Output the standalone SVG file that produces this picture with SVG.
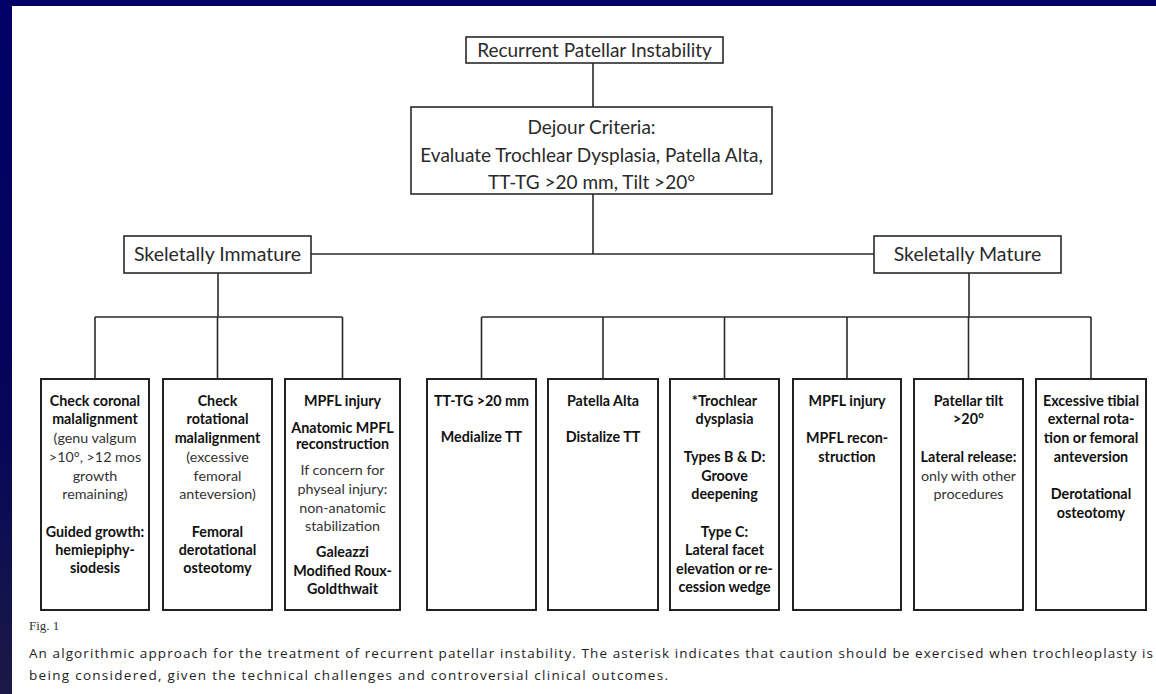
<svg xmlns="http://www.w3.org/2000/svg" width="1156" height="694" viewBox="0 0 1156 694">
<defs>
<linearGradient id="navy" x1="0" y1="0" x2="0" y2="1">
<stop offset="0" stop-color="#000068"/>
<stop offset="0.6" stop-color="#05055a"/>
<stop offset="1" stop-color="#1a1a46"/>
</linearGradient>
<style>
.box{fill:#fff;stroke:#2a2a2a;stroke-width:1.6}
.cbox{fill:#fff;stroke:#222;stroke-width:2}
.con{stroke:#2a2a2a;stroke-width:1.6;fill:none}
.t{font-family:Lato,"Noto Sans",sans-serif;fill:#2a2a2a;text-anchor:middle}
.h{font-size:19px}
.s{font-size:19.5px}
.c{font-family:Lato,"Noto Sans",sans-serif;font-size:14.3px;text-anchor:middle;fill:#111}
.b{font-weight:bold}
.r{font-weight:normal;fill:#333}
.cap{font-family:"Open Sans","Liberation Sans",sans-serif;font-size:13.5px;fill:#222}
.fig{font-family:"Liberation Serif","Times New Roman",serif;font-size:13px;fill:#333}
</style>
</defs>
<rect x="0" y="0" width="1156" height="694" fill="url(#navy)"/>
<rect x="0" y="0" width="1156" height="6" fill="#000068"/>
<rect x="12" y="6" width="1144" height="688" fill="#fff"/>

<g id="connectors">
<line class="con" x1="593" y1="63" x2="593" y2="107"/>
<line class="con" x1="593" y1="194" x2="593" y2="254"/>
<line class="con" x1="311" y1="254" x2="874" y2="254"/>
<line class="con" x1="218" y1="273" x2="218" y2="317"/>
<line class="con" x1="95" y1="317" x2="342.5" y2="317"/>
<line class="con" x1="95" y1="317" x2="95" y2="379"/>
<line class="con" x1="217.5" y1="317" x2="217.5" y2="379"/>
<line class="con" x1="342.5" y1="317" x2="342.5" y2="379"/>
<line class="con" x1="969" y1="273" x2="969" y2="317"/>
<line class="con" x1="481.5" y1="317" x2="1091" y2="317"/>
<line class="con" x1="481.5" y1="317" x2="481.5" y2="379"/>
<line class="con" x1="603" y1="317" x2="603" y2="379"/>
<line class="con" x1="724.5" y1="317" x2="724.5" y2="379"/>
<line class="con" x1="847" y1="317" x2="847" y2="379"/>
<line class="con" x1="968.5" y1="317" x2="968.5" y2="379"/>
<line class="con" x1="1091" y1="317" x2="1091" y2="379"/>
</g>

<g id="n-root">
<rect class="box" x="466" y="37" width="257" height="26"/>
<text class="t h" x="594.5" y="56.5">Recurrent Patellar Instability</text>
</g>
<g id="n-dejour">
<rect class="box" x="411" y="107" width="361" height="87"/>
<text class="t h" x="591.5" y="133.5">Dejour Criteria:</text>
<text class="t h" x="591.5" y="161.5">Evaluate Trochlear Dysplasia, Patella Alta,</text>
<text class="t h" x="591.5" y="188.5">TT-TG &gt;20 mm, Tilt &gt;20°</text>
</g>
<g id="n-immature">
<rect class="box" x="124" y="236" width="187" height="37"/>
<text class="t s" x="217.5" y="261">Skeletally Immature</text>
</g>
<g id="n-mature">
<rect class="box" x="874" y="236" width="187" height="37"/>
<text class="t s" x="967.5" y="261">Skeletally Mature</text>
</g>

<g id="n-coronal">
<rect class="cbox" x="41" y="379" width="108" height="231"/>
<text class="c b" x="95" y="405.5">Check coronal</text>
<text class="c b" x="95" y="424">malalignment</text>
<text class="c r" x="95" y="442.5">(genu valgum</text>
<text class="c r" x="95" y="461.5">&gt;10°, &gt;12 mos</text>
<text class="c r" x="95" y="480.5">growth</text>
<text class="c r" x="95" y="499">remaining)</text>
<text class="c b" x="95" y="536.5">Guided growth:</text>
<text class="c b" x="95" y="555">hemiepiphy-</text>
<text class="c b" x="95" y="573">siodesis</text>
</g>
<g id="n-rotational">
<rect class="cbox" x="163" y="379" width="109" height="231"/>
<text class="c b" x="217.5" y="405.5">Check</text>
<text class="c b" x="217.5" y="424">rotational</text>
<text class="c b" x="217.5" y="442.5">malalignment</text>
<text class="c r" x="217.5" y="461.5">(excessive</text>
<text class="c r" x="217.5" y="480.5">femoral</text>
<text class="c r" x="217.5" y="499">anteversion)</text>
<text class="c b" x="217.5" y="536.5">Femoral</text>
<text class="c b" x="217.5" y="555">derotational</text>
<text class="c b" x="217.5" y="573">osteotomy</text>
</g>
<g id="n-mpfl-immature">
<rect class="cbox" x="285" y="379" width="115" height="231"/>
<text class="c b" x="342.5" y="405.5">MPFL injury</text>
<text class="c b" x="342.5" y="432.5">Anatomic MPFL</text>
<text class="c b" x="342.5" y="449">reconstruction</text>
<text class="c r" x="342.5" y="475">If concern for</text>
<text class="c r" x="342.5" y="494">physeal injury:</text>
<text class="c r" x="342.5" y="512.5">non-anatomic</text>
<text class="c r" x="342.5" y="530.5">stabilization</text>
<text class="c b" x="342.5" y="557">Galeazzi</text>
<text class="c b" x="342.5" y="575.5">Modified Roux-</text>
<text class="c b" x="342.5" y="594">Goldthwait</text>
</g>

<g id="n-tttg">
<rect class="cbox" x="427" y="379" width="109" height="231"/>
<text class="c b" x="481.5" y="405.5">TT-TG &gt;20 mm</text>
<text class="c b" x="481.5" y="442">Medialize TT</text>
</g>
<g id="n-alta">
<rect class="cbox" x="548" y="379" width="110" height="231"/>
<text class="c b" x="603" y="405.5">Patella Alta</text>
<text class="c b" x="603" y="442">Distalize TT</text>
</g>
<g id="n-trochlear">
<rect class="cbox" x="670" y="379" width="109" height="231"/>
<text class="c b" x="724.5" y="405.5">*Trochlear</text>
<text class="c b" x="724.5" y="424">dysplasia</text>
<text class="c b" x="724.5" y="461.5">Types B &amp; D:</text>
<text class="c b" x="724.5" y="480.5">Groove</text>
<text class="c b" x="724.5" y="499">deepening</text>
<text class="c b" x="724.5" y="536.5">Type C:</text>
<text class="c b" x="724.5" y="555">Lateral facet</text>
<text class="c b" x="724.5" y="573.5">elevation or re-</text>
<text class="c b" x="724.5" y="592">cession wedge</text>
</g>
<g id="n-mpfl-mature">
<rect class="cbox" x="793" y="379" width="108" height="231"/>
<text class="c b" x="847" y="405.5">MPFL injury</text>
<text class="c b" x="847" y="443">MPFL recon-</text>
<text class="c b" x="847" y="461.5">struction</text>
</g>
<g id="n-tilt">
<rect class="cbox" x="914" y="379" width="109" height="231"/>
<text class="c b" x="968.5" y="405.5">Patellar tilt</text>
<text class="c b" x="968.5" y="424">&gt;20°</text>
<text class="c b" x="968.5" y="461.5">Lateral release:</text>
<text class="c r" x="968.5" y="480.5">only with other</text>
<text class="c r" x="968.5" y="499">procedures</text>
</g>
<g id="n-rotation">
<rect class="cbox" x="1036" y="379" width="110" height="231"/>
<text class="c b" x="1091" y="405.5">Excessive tibial</text>
<text class="c b" x="1091" y="424">external rota-</text>
<text class="c b" x="1091" y="442.5">tion or femoral</text>
<text class="c b" x="1091" y="461.5">anteversion</text>
<text class="c b" x="1091" y="499">Derotational</text>
<text class="c b" x="1091" y="517.5">osteotomy</text>
</g>

<g id="caption">
<text class="fig" x="29" y="630">Fig. 1</text>
<text class="cap" x="29" y="658" textLength="1124" lengthAdjust="spacing">An algorithmic approach for the treatment of recurrent patellar instability. The asterisk indicates that caution should be exercised when trochleoplasty is</text>
<text class="cap" x="29" y="680" textLength="639" lengthAdjust="spacing">being considered, given the technical challenges and controversial clinical outcomes.</text>
</g>
</svg>
